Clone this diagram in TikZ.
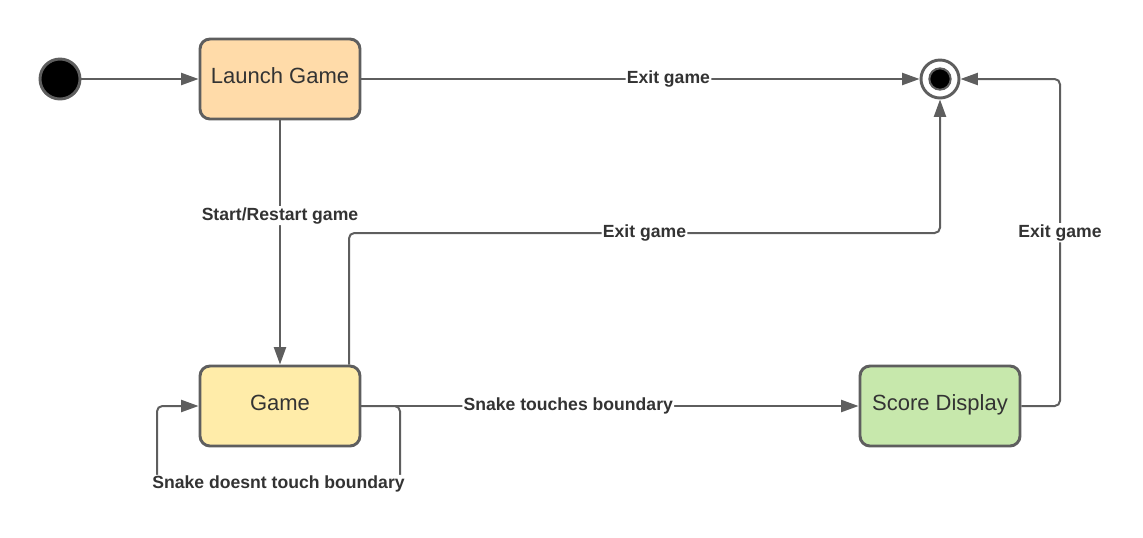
\documentclass[tikz,border=0pt]{standalone}
\usepackage{fontspec}
\setmainfont{Liberation Sans}
\usetikzlibrary{arrows.meta,calc}
\definecolor{sdline}{HTML}{5E5E5E}
\definecolor{sdtext}{HTML}{333333}
\definecolor{sdorange}{HTML}{FFDBA9}
\definecolor{sdyellow}{HTML}{FFECA9}
\definecolor{sdgreen}{HTML}{C7E8AC}
\tikzset{
  sd state/.style={
    rectangle,rounded corners=7.5pt,draw=sdline,line width=2.2pt,
    minimum width=120pt,minimum height=60pt,inner sep=0pt,
    text height=0.72em,text depth=0.12em,
    text=sdtext,font=\fontsize{16.5}{19}\selectfont
  },
  sd edge/.style={draw=sdline,line width=1.5pt,rounded corners=4pt,
    -{Triangle[length=13pt,width=9pt]}},
  sd label/.style={fill=white,text=sdtext,inner sep=1pt,
    font=\bfseries\fontsize{13.2}{15}\selectfont}
}

\begin{document}
\begin{tikzpicture}[x=0.75pt,y=-0.75pt]
  \useasboundingbox (0,0) rectangle (1143,537);
  \node[circle,draw=sdline,fill=black,line width=2.2pt,minimum size=30pt,inner sep=0pt] (init) at (60,79) {};
  \node[circle,draw=sdline,fill=white,line width=2.2pt,minimum size=28.5pt,inner sep=0pt] (fin) at (940,79) {};
  \node[circle,draw=sdline,fill=black,line width=1.5pt,minimum size=16pt,inner sep=0pt] (fin dot) at (940,79) {};
  \node[sd state,fill=sdorange] (launch) at (280,79) {Launch Game};
  \node[sd state,fill=sdyellow] (game) at (280,406) {Game};
  \node[sd state,fill=sdgreen] (score) at (940,406) {Score Display};
  \coordinate (exit row) at (0,233);
  \coordinate (right col) at (1060,79);
  \coordinate (loop r) at (400,483);
  \coordinate (loop l) at (157,483);
  \draw[sd edge] (init) -- (launch);
  \draw[sd edge] (launch) -- node[sd label,pos=0.55] {Exit game} (fin);
  \draw[sd edge] (launch) -- node[sd label,pos=0.39] {Start/Restart game} (game);
  \draw[sd edge] ($(game.north)+(69,0)$) |- node[sd label,pos=0.75] {Exit game} (fin |- exit row) -- (fin);
  \draw[sd edge] (game) -- node[sd label,pos=0.416] {Snake touches boundary} (score);
  \draw[sd edge] (score) -| node[sd label,pos=0.765] {Exit game} (right col) -- (fin);
  \draw[sd edge] (game.east) -| (loop r) -- node[sd label,yshift=-1pt] {Snake doesnt touch boundary} (loop l) |- (game.west);
\end{tikzpicture}
\end{document}
